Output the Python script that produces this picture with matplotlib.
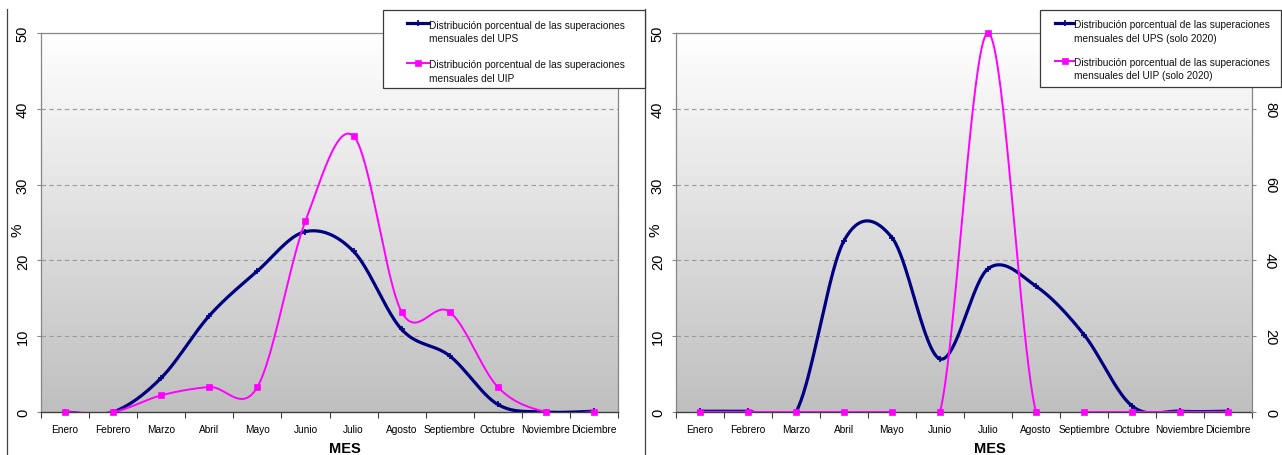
import numpy as np
import matplotlib
matplotlib.use("Agg")
import matplotlib.pyplot as plt
from matplotlib.lines import Line2D
from matplotlib.patches import Rectangle
from matplotlib import font_manager

# ---------------- data ----------------
months = ["Enero", "Febrero", "Marzo", "Abril", "Mayo", "Junio", "Julio",
          "Agosto", "Septiembre", "Octubre", "Noviembre", "Diciembre"]

ups_all = [0.0, 0.0, 4.5, 12.7, 18.6, 23.8, 21.2, 10.9, 7.4, 1.0, 0.0, 0.1]
uip_all = [0.0, 0.0, 2.2, 3.3, 3.3, 25.2, 36.4, 13.2, 13.2, 3.3, 0.0, 0.0]

ups_2020 = [0.1, 0.1, 0.0, 22.6, 23.0, 7.0, 18.9, 16.6, 10.2, 0.8, 0.1, 0.1]
uip_2020 = [0, 0, 0, 0, 0, 0, 100, 0, 0, 0, 0, 0]

label_ups_all = "Distribución porcentual de las superaciones\nmensuales del UPS"
label_uip_all = "Distribución porcentual de las superaciones\nmensuales del UIP"
label_ups_2020 = "Distribución porcentual de las superaciones\nmensuales del UPS (solo 2020)"
label_uip_2020 = "Distribución porcentual de las superaciones\nmensuales del UIP (solo 2020)"

left_ticks = [0, 10, 20, 30, 40, 50]
right_ticks = [0, 20, 40, 60, 80]   # 100 is hidden behind the legend in the original
right_max = 100

# ---------------- style ----------------
plt.rcParams['font.family'] = ['Liberation Sans', 'DejaVu Sans']
try:
    font_manager.findfont('Liberation Sans Narrow', fallback_to_default=False)
    NARROW = ['Liberation Sans Narrow', 'Liberation Sans', 'DejaVu Sans']
    XT_SIZE = 9
except Exception:
    NARROW = ['Liberation Sans', 'DejaVu Sans']
    XT_SIZE = 7.3

NAVY = '#000080'
PINK = '#FF00FF'
GRID = '#9a9a9a'
SPINE = '#868686'
AXIS = '#404040'

W, H = 1282, 456
fig = plt.figure(figsize=(W / 100, H / 100), dpi=100)
fig.patch.set_facecolor('white')


def fx(x):
    return x / W


def fy(y):
    return 1 - y / H


def excel_smooth(y, n=40):
    x = np.arange(len(y), dtype=float)
    P = np.column_stack([x, np.asarray(y, dtype=float)])
    out = []
    for i in range(len(P) - 1):
        p0 = P[i - 1] if i > 0 else P[i]
        p1 = P[i]
        p2 = P[i + 1]
        p3 = P[i + 2] if i + 2 < len(P) else P[i + 1]
        c1 = p1 + (p2 - p0) / 6.0
        c2 = p2 - (p3 - p1) / 6.0
        t = np.linspace(0, 1, n)[:, None]
        seg = ((1 - t) ** 3) * p1 + 3 * ((1 - t) ** 2) * t * c1 + 3 * (1 - t) * (t ** 2) * c2 + (t ** 3) * p2
        out.append(seg if i == 0 else seg[1:])
    S = np.vstack(out)
    return S[:, 0], S[:, 1]


def setup_axes(rect):
    ax = fig.add_axes(rect)
    ax.set_xlim(-0.5, 11.5)
    grad = np.linspace(1, 0, 256)[:, None]   # row 0 (bottom) gray -> top white
    cmap = matplotlib.colors.LinearSegmentedColormap.from_list('g', ['#ffffff', '#bfbfbf'])
    ax.imshow(grad, extent=[-0.5, 11.5, 0, 50], aspect='auto', cmap=cmap,
              origin='lower', zorder=0, interpolation='bilinear', vmin=0, vmax=1)
    ax.set_xlim(-0.5, 11.5)
    ax.set_ylim(0, 50)
    for v in left_ticks[1:-1]:
        ax.axhline(v, color=GRID, lw=0.8, ls=(0, (4, 3)), zorder=1)
    ax.set_yticks(left_ticks)
    ax.set_xticks(range(12))
    ax.set_xticklabels(months, family=NARROW, fontsize=XT_SIZE)
    ax.set_xticks(np.arange(-0.5, 12, 1.0), minor=True)
    ax.tick_params(axis='x', which='major', length=0, pad=9)
    ax.tick_params(axis='x', which='minor', length=4.5, color=AXIS, width=0.8, direction='out')
    ax.tick_params(axis='y', length=3, color=SPINE, width=0.8, pad=5, labelsize=10.5)
    for lab in ax.get_yticklabels():
        lab.set_rotation(90)
        lab.set_va('center')
        lab.set_ha('right')
    for s in ['left', 'top', 'right']:
        ax.spines[s].set_color(SPINE)
        ax.spines[s].set_linewidth(0.9)
    ax.spines['bottom'].set_color(AXIS)
    ax.spines['bottom'].set_linewidth(1.0)
    return ax


def plot_series(ax, vals, color, lw, marker, ms, mew, z):
    xs, ys = excel_smooth(vals)
    ax.plot(xs, ys, color=color, lw=lw, zorder=z, solid_capstyle='round')
    ax.plot(range(len(vals)), vals, ls='none', marker=marker, ms=ms, mew=mew,
            color=color, mec=color, mfc=color, zorder=z + 0.5, clip_on=False)


def draw_legend(l, t, r, b, entries):
    fig.add_artist(Rectangle((fx(l), fy(b)), fx(r) - fx(l), fy(t) - fy(b),
                             transform=fig.transFigure, fc='white', ec='#3a3a3a',
                             lw=0.9, zorder=20))
    for (label, color, lw, marker, ms, mew, yline, ymid, x0, x1) in entries:
        fig.add_artist(Line2D([fx(x0), fx(x1)], [fy(yline), fy(yline)],
                              transform=fig.transFigure, color=color, lw=lw, zorder=21))
        fig.add_artist(Line2D([fx((x0 + x1) / 2)], [fy(yline)], transform=fig.transFigure,
                              ls='none', marker=marker, ms=ms, mew=mew, color=color,
                              mfc=color, mec=color, zorder=22))
        fig.text(fx(x1), fy(ymid), label, fontsize=7.3, va='center', ha='left',
                 linespacing=1.48, zorder=23, color='#111111')


# ---------------- left chart ----------------
axL = setup_axes([fx(41), fy(413), fx(618) - fx(41), fy(34) - fy(413)])
plot_series(axL, ups_all, NAVY, 2.3, '+', 5, 1.2, 3)
plot_series(axL, uip_all, PINK, 1.4, 's', 4.8, 0.5, 4)
fig.text(fx(17), fy(230), '%', fontsize=11, rotation=90, va='center', ha='center')
fig.text(fx(345), fy(449), 'MES', family=NARROW, fontsize=10.5, fontweight='bold',
         ha='center', va='center')

# ---------------- right chart ----------------
axR = setup_axes([fx(676), fy(413), fx(1252) - fx(676), fy(34) - fy(413)])
axR.spines['right'].set_visible(False)
plot_series(axR, ups_2020, NAVY, 2.3, '+', 5, 1.2, 3)
axR2 = axR.twinx()
axR2.set_ylim(0, right_max)
axR2.set_yticks(right_ticks)
axR2.tick_params(axis='y', length=3, color=SPINE, width=0.8, pad=5, labelsize=10.5)
for lab in axR2.get_yticklabels():
    lab.set_rotation(270)
    lab.set_va('center')
    lab.set_ha('left')
for s in ['left', 'top', 'bottom']:
    axR2.spines[s].set_visible(False)
axR2.spines['right'].set_color(SPINE)
axR2.spines['right'].set_linewidth(0.9)
plot_series(axR2, uip_2020, PINK, 1.4, 's', 4.8, 0.5, 4)
fig.text(fx(655), fy(230), '%', fontsize=11, rotation=90, va='center', ha='center')
fig.text(fx(990), fy(449), 'MES', family=NARROW, fontsize=10.5, fontweight='bold',
         ha='center', va='center')

# ---------------- legends ----------------
draw_legend(383, 11, 645, 89, [
    (label_ups_all, NAVY, 2.3, '+', 5, 1.2, 24, 32.5, 407, 429),
    (label_uip_all, PINK, 1.4, 's', 4.5, 0.5, 64, 72, 407, 429),
])
draw_legend(1040, 11, 1281, 88, [
    (label_ups_2020, NAVY, 2.3, '+', 5, 1.2, 24, 32, 1055, 1074),
    (label_uip_2020, PINK, 1.4, 's', 4.5, 0.5, 62, 69.5, 1055, 1074),
])

# ---------------- panel separators ----------------
fig.add_artist(Line2D([fx(7), fx(7)], [fy(10), fy(456)], transform=fig.transFigure,
                      color='#444444', lw=0.9, zorder=5))
fig.add_artist(Line2D([fx(645), fx(645)], [fy(10), fy(456)], transform=fig.transFigure,
                      color='#444444', lw=0.9, zorder=5))

fig.savefig('out.png', dpi=100)
